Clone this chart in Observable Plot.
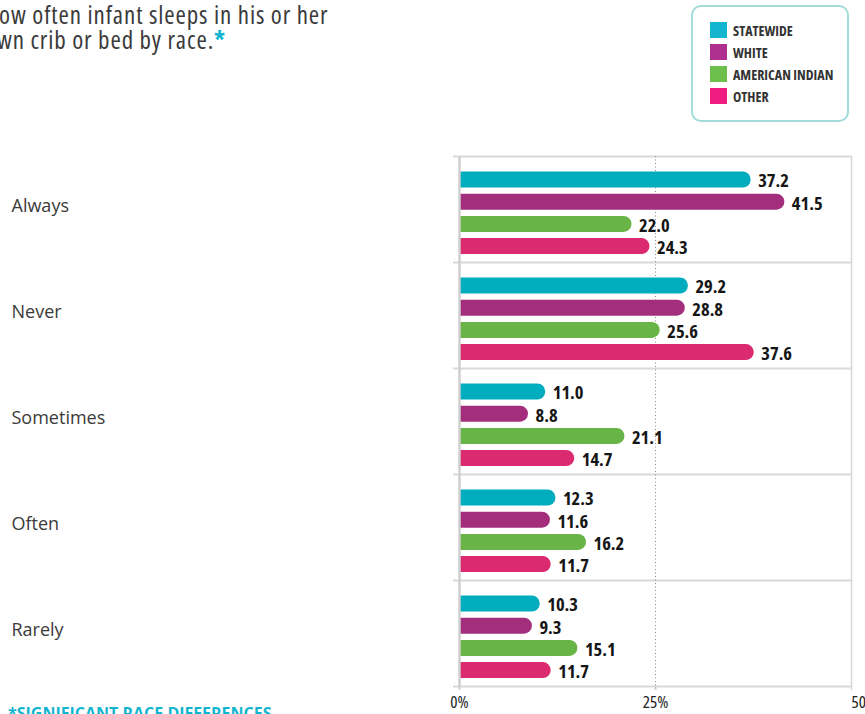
<!DOCTYPE html>
<html>
<head>
<meta charset="utf-8">
<script src="https://cdn.jsdelivr.net/npm/d3@7"></script>
<script src="https://cdn.jsdelivr.net/npm/@observablehq/plot@0.6"></script>
<style>
  body { margin: 0; background: #fff; overflow: hidden; }
  #wrap { position: relative; width: 865px; height: 714px; overflow: hidden; background: #fff; }
  #chart { position: absolute; left: 0; top: 0; }
  #title { position: absolute; left: -15px; top: 2px; font-family: "Open Sans", sans-serif; font-stretch: 75%; letter-spacing: 0.9px; font-size: 25px; line-height: 25px; color: #3b3b3b; white-space: nowrap; }
  #title .ast { color: #12b5cf; font-weight: 700; }
  #legend { position: absolute; left: 691px; top: 5px; width: 154px; height: 113px; border: 2px solid #a3dada; border-radius: 10px; box-sizing: content-box; }
  #legend .row { position: absolute; left: 17px; height: 16px; font-family: "Open Sans", sans-serif; font-stretch: 75%; font-weight: 700; font-size: 14px; line-height: 17px; color: #333; white-space: nowrap; }
  #legend .sw { display: inline-block; width: 17px; height: 16px; vertical-align: top; margin-right: 6px; }
  #foot { position: absolute; left: 8px; top: 705px; font-family: "Open Sans", sans-serif; font-weight: 700; font-size: 16px; line-height: 16px; color: #12b5cf; white-space: nowrap; }
</style>
</head>
<body>
<div id="wrap">
  <div id="chart"></div>
  <div id="title">How often infant sleeps in his or her<br>own crib or bed by race.<span class="ast">*</span></div>
  <div id="legend"></div>
  <div id="foot">*SIGNIFICANT RACE DIFFERENCES</div>
</div>
<script>
// ---- data ----
const categories = ["Always", "Never", "Sometimes", "Often", "Rarely"];
const series = ["Statewide", "White", "American Indian", "Other"];
const legendLabels = ["STATEWIDE", "WHITE", "AMERICAN INDIAN", "OTHER"];
const statewide = [37.2, 29.2, 11.0, 12.3, 10.3];
const white = [41.5, 28.8, 8.8, 11.6, 9.3];
const americanIndian = [22.0, 25.6, 21.1, 16.2, 15.1];
const other = [24.3, 37.6, 14.7, 11.7, 11.7];
const xTicks = [0, 25, 50];

// ---- styles ----
const barColors = ["#00adbe", "#a32f7c", "#68b446", "#dc2a71"];
const legendColors = ["#13b5cf", "#b0308f", "#6cbf4a", "#ee1d7f"];
const font = "'Open Sans', sans-serif";

const valuesBySeries = [statewide, white, americanIndian, other];
const rows = [];
series.forEach((s, i) => categories.forEach((c, j) => rows.push({series: s, category: c, value: valuesBySeries[i][j]})));

const W = 865, H = 714, mTop = 156, mBottom = 28, mLeft = 459, mRight = 14;
const bw = (H - mTop - mBottom) / categories.length;
const barH = 16, firstTop = 15.5, step = 22.2;

const marks = [];
// horizontal band boundaries
marks.push(Plot.ruleY(categories, {y: d => d, x1: 0, x2: 50, dy: -bw / 2, stroke: "#d9d9d9", strokeWidth: 2, insetLeft: -6}));
marks.push(Plot.ruleY([categories[categories.length - 1]], {y: d => d, x1: 0, x2: 50, dy: bw / 2, stroke: "#d9d9d9", strokeWidth: 2, insetLeft: -6}));
// vertical lines
marks.push(Plot.ruleX([25], {x: d => d, stroke: "#8a8a8a", strokeWidth: 1, strokeDasharray: "1,2.5"}));
marks.push(Plot.ruleX([50], {x: d => d, stroke: "#d6d6d6", strokeWidth: 1.5}));

series.forEach((s, i) => {
  const data = rows.filter(r => r.series === s);
  const top = firstTop + step * i;
  const inset = {insetTop: top, insetBottom: bw - top - barH};
  // rounded bar whose left rounding lies outside the frame and is clipped away
  marks.push(Plot.barX(data, {x1: -1.5, x2: "value", y: "category", fill: barColors[i], rx: 8, clip: true, ...inset}));
  marks.push(Plot.text(data, {
    x: "value", y: "category", text: d => d.value.toFixed(1),
    dx: 7, dy: top + barH / 2 - bw / 2 + 1.5, textAnchor: "start",
    fontSize: 18.5, fontWeight: "bold", fontFamily: font, fill: "#151515"
  }));
});
marks.push(Plot.ruleX([0], {x: d => d, stroke: "#cfcfcf", strokeWidth: 2.5}));

// category labels
marks.push(Plot.text(categories, {y: d => d, text: d => d, frameAnchor: "left", dx: -448, dy: -3, textAnchor: "start", fontSize: 18, fontFamily: font, fill: "#3a3a3a"}));

// x axis
marks.push(Plot.axisX(xTicks.slice(0, 2), {tickSize: 4, tickPadding: 5, stroke: "#cfcfcf", strokeWidth: 2, tickFormat: d => d + "%", fontSize: 17, fontFamily: font, fill: "#222", label: null}));
marks.push(Plot.axisX(xTicks.slice(2), {tickSize: 4, tickPadding: 5, stroke: "#d6d6d6", strokeWidth: 1.5, tickFormat: d => d + "%", textAnchor: "start", fontSize: 17, fontFamily: font, fill: "#222", label: null}));

const chart = Plot.plot({
  width: W, height: H,
  marginTop: mTop, marginBottom: mBottom, marginLeft: mLeft, marginRight: mRight,
  x: {domain: [0, 50], label: null},
  y: {domain: categories, padding: 0, axis: null},
  marks
});
// condensed face for value labels and x tick labels
chart.querySelectorAll('g[font-weight="bold"] text, g[aria-label="x-axis tick label"] text').forEach(t => {
  t.style.fontStretch = "75%";
});
document.getElementById("chart").appendChild(chart);

// legend
const legend = document.getElementById("legend");
legendLabels.forEach((lab, i) => {
  const row = document.createElement("div");
  row.className = "row";
  row.style.top = (15 + 22 * i) + "px";
  row.innerHTML = `<span class="sw" style="background:${legendColors[i]}"></span>${lab}`;
  legend.appendChild(row);
});
</script>
</body>
</html>
